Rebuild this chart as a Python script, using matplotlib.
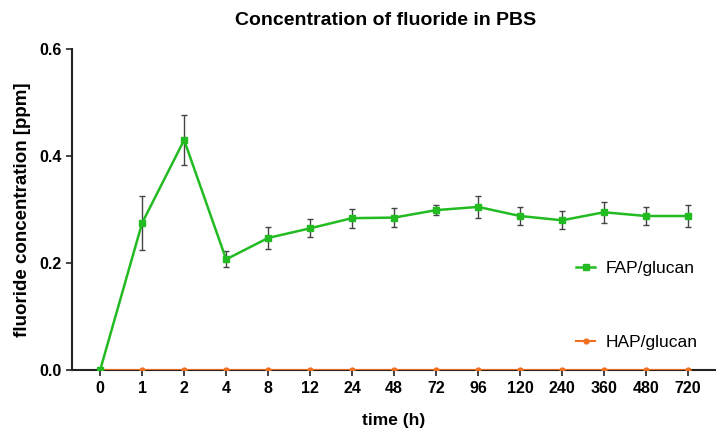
import matplotlib
matplotlib.use("Agg")
import matplotlib.pyplot as plt
from matplotlib.lines import Line2D
import numpy as np

plt.rcParams['font.family'] = ['Liberation Sans', 'DejaVu Sans']

times = ["0", "1", "2", "4", "8", "12", "24", "48", "72", "96", "120", "240", "360", "480", "720"]
fap = [0.0, 0.275, 0.430, 0.207, 0.247, 0.265, 0.284, 0.285, 0.299, 0.305, 0.288, 0.280, 0.295, 0.288, 0.288]
fap_err = [0.0, 0.050, 0.047, 0.015, 0.020, 0.017, 0.018, 0.018, 0.010, 0.020, 0.017, 0.017, 0.020, 0.016, 0.021]
hap = [0.0] * 15
hap_err = [0.0] * 15

green = "#22bb22"
orange = "#f07020"

fig = plt.figure(figsize=(7.2, 4.38), dpi=100)
ax = fig.add_axes([0.1, 0.155, 0.893, 0.733])
x = np.arange(len(times))

ax.errorbar(x, hap, yerr=hap_err, color=orange, marker='o', markersize=3.5, lw=1.5, zorder=3)
ax.errorbar(x, fap, yerr=fap_err, color=green, marker='s', markersize=4.5, lw=1.8,
            ecolor="#444444", elinewidth=1, capsize=2.5, capthick=1, zorder=4)

ax.set_xlim(-0.67, 14.64)
ax.set_ylim(0, 0.6)
ax.set_yticks([0.0, 0.2, 0.4, 0.6])
ax.set_yticklabels(["0.0", "0.2", "0.4", "0.6"])
ax.set_xticks(x)
ax.set_xticklabels(times)
for lab in ax.get_xticklabels() + ax.get_yticklabels():
    lab.set_fontweight('bold')
    lab.set_fontsize(11.5)
ax.tick_params(axis='both', direction='out', length=4, width=1.2, color='#222222')
ax.tick_params(axis='x', pad=4)
for s in ['top', 'right']:
    ax.spines[s].set_visible(False)
for s in ['left', 'bottom']:
    ax.spines[s].set_linewidth(1.5)
    ax.spines[s].set_color('#222222')

ax.set_xlabel("time (h)", fontsize=12.5, fontweight='bold', labelpad=12)
ax.set_ylabel("fluoride concentration [ppm]", fontsize=13.5, fontweight='bold', labelpad=6)
ax.set_title("Concentration of fluoride in PBS", fontsize=14, fontweight='bold', pad=17, x=0.488)

handles = [Line2D([], [], color=green, marker='s', markersize=4, lw=1.8),
           Line2D([], [], color=orange, marker='o', markersize=3.5, lw=1.5)]
labels = ["FAP/glucan", "HAP/glucan"]
ax.legend(handles, labels, loc='upper left', bbox_to_anchor=(0.76, 0.39),
          frameon=False, fontsize=12.5, labelspacing=3.4, handlelength=1.1,
          handletextpad=0.6)

fig.savefig("out.png", dpi=100)
